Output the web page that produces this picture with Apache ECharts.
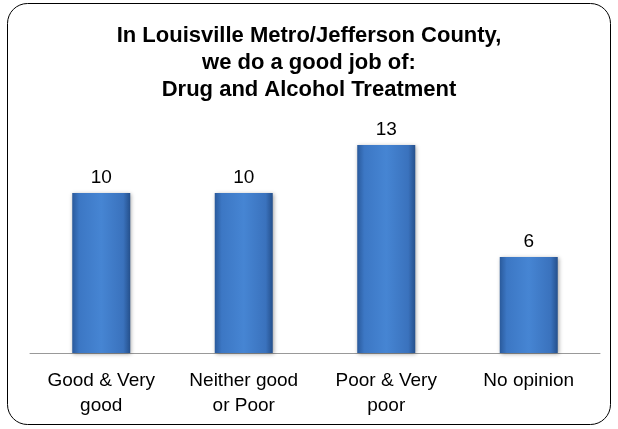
<!DOCTYPE html>
<html><head><meta charset="utf-8">
<script src="https://cdn.jsdelivr.net/npm/echarts@6/dist/echarts.min.js"></script>
<style>html,body{margin:0;padding:0;background:#fff}#c{width:618px;height:429px}</style>
</head><body><div id="c"></div>
<script>
const categories = ["Good & Very\ngood", "Neither good\nor Poor", "Poor & Very\npoor", "No opinion"];
const values = [10, 10, 13, 6];
const titleText = "In Louisville Metro/Jefferson County,\nwe do a good job of:\nDrug and Alcohol Treatment";

const chart = echarts.init(document.getElementById('c'), null, {renderer: 'canvas'});
chart.setOption({
  animation: false,
  graphic: [{
    type: 'rect', shape: {x: 7.5, y: 3.5, width: 603, height: 421, r: 20},
    style: {fill: 'none', stroke: '#000', lineWidth: 1}, z: 0
  }],
  title: {
    text: titleText, left: 'center', top: 17,
    textStyle: {fontFamily: 'Liberation Sans, Arial', fontWeight: 'bold', fontSize: 22, lineHeight: 27, color: '#000'}
  },
  grid: {left: 30, right: 18, top: 113, bottom: 76, containLabel: false},
  xAxis: {
    type: 'category', data: categories,
    axisLine: {lineStyle: {color: '#999', width: 1}},
    axisTick: {show: false},
    axisLabel: {interval: 0, color: '#000', fontFamily: 'Liberation Sans, Arial', fontSize: 19, lineHeight: 25, margin: 15}
  },
  yAxis: {type: 'value', min: 0, max: 15, show: false, splitLine: {show: false}},
  series: [{
    type: 'bar', data: values, barWidth: 58,
    itemStyle: {
      color: new echarts.graphic.LinearGradient(0, 0, 1, 0, [
        {offset: 0, color: '#2a5a9c'},
        {offset: 0.12, color: '#3c77c4'},
        {offset: 0.5, color: '#4685d3'},
        {offset: 0.88, color: '#3a72bd'},
        {offset: 1, color: '#25508c'}
      ]),
      shadowColor: 'rgba(0,0,0,0.35)', shadowBlur: 4, shadowOffsetX: 1, shadowOffsetY: 1
    },
    label: {show: true, position: 'top', distance: 6, color: '#000', fontFamily: 'Liberation Sans, Arial', fontSize: 19}
  }]
});
</script></body></html>
